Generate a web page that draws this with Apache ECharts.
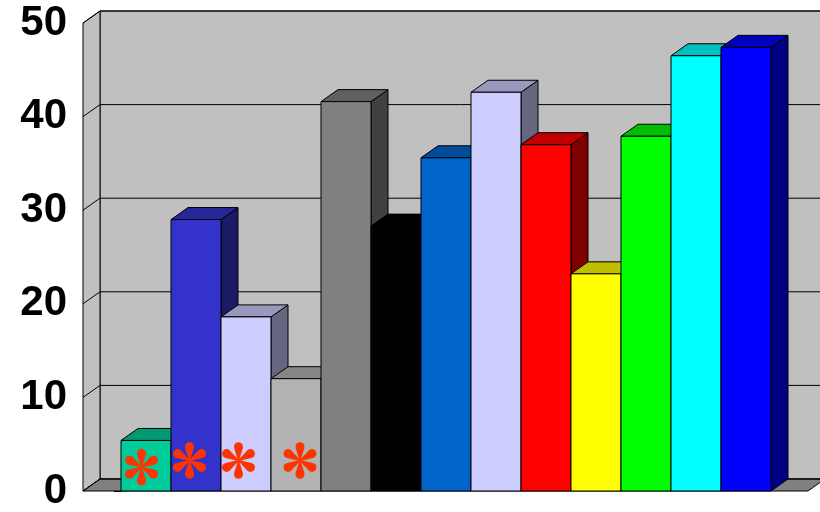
<!DOCTYPE html>
<html>
<head>
<meta charset="utf-8">
<script src="https://cdn.jsdelivr.net/npm/echarts@6/dist/echarts.min.js"></script>
<style>
  html, body { margin: 0; padding: 0; background: #ffffff; }
  #chart { width: 820px; height: 512px; }
</style>
</head>
<body>
<div id="chart"></div>
<script>
// Bar heights, left to right
const values = [5.4, 29.0, 18.6, 12.0, 41.6, 28.3, 35.6, 42.6, 37.0, 23.2, 37.9, 46.5, 47.4];
// Front-face colour of each bar
const barColors = ['#00CC99', '#3333CC', '#CCCCFF', '#B2B2B2', '#808080', '#000000', '#0066CC',
                   '#CCCCFF', '#FF0000', '#FFFF00', '#00FF00', '#00FFFF', '#0000FF'];
// Value-axis ticks
const yTicks = [0, 10, 20, 30, 40, 50];
// Asterisk markers near the base of the first bars (x in bar units, y in value units)
const starX = [0.41, 1.37, 2.35, 3.58];
const starY = [2.55, 3.26, 3.26, 3.26];

// 3D depth of the plot box in pixels
const DX = 17, DY = 12;
const X_MIN = -0.76, X_MAX = 13.74;

function shade(hex, f) {
  const n = parseInt(hex.slice(1), 16);
  const r = Math.round(((n >> 16) & 255) * f);
  const g = Math.round(((n >> 8) & 255) * f);
  const b = Math.round((n & 255) * f);
  return 'rgb(' + r + ',' + g + ',' + b + ')';
}

const chart = echarts.init(document.getElementById('chart'));

// Back wall, side wall, floor and grid lines
function renderWalls(params, api) {
  const yMax = yTicks[yTicks.length - 1];
  const fl = api.coord([X_MIN, 0]);
  const fr = api.coord([X_MAX, 0]);
  const tl = api.coord([X_MIN, yMax]);
  const stroke = { stroke: '#000', lineWidth: 1 };
  const ch = [];
  ch.push({ type: 'polygon', shape: { points: [
      [tl[0] + DX, tl[1] - DY], [fr[0] + DX + 40, tl[1] - DY],
      [fr[0] + DX + 40, fl[1] - DY], [fl[0] + DX, fl[1] - DY]] },
    style: Object.assign({ fill: '#C0C0C0' }, stroke) });
  ch.push({ type: 'polygon', shape: { points: [
      [fl[0], fl[1]], [tl[0], tl[1]], [tl[0] + DX, tl[1] - DY], [fl[0] + DX, fl[1] - DY]] },
    style: Object.assign({ fill: '#C0C0C0' }, stroke) });
  ch.push({ type: 'polygon', shape: { points: [
      [fl[0], fl[1]], [fr[0], fr[1]], [fr[0] + DX, fr[1] - DY], [fl[0] + DX, fl[1] - DY]] },
    style: Object.assign({ fill: '#808080' }, stroke) });
  yTicks.forEach(function (v) {
    const p = api.coord([X_MIN, v]);
    ch.push({ type: 'polyline', shape: { points: [
        [p[0], p[1]], [p[0] + DX, p[1] - DY], [fr[0] + DX + 40, p[1] - DY]] },
      style: { stroke: '#000', lineWidth: 1, fill: null } });
  });
  return { type: 'group', children: ch };
}

// 3D bar: front face, top face, right side face
function renderBar(params, api) {
  const i = api.value(0);
  const v = api.value(1);
  const p0 = api.coord([i, 0]);
  const p1 = api.coord([i + 1, v]);
  const x0 = p0[0], x1 = p1[0], y0 = p0[1], y1 = p1[1];
  const c = barColors[params.dataIndex];
  const base = params.dataIndex * 10;
  const st = { stroke: '#000', lineWidth: 1 };
  return { type: 'group', children: [
    { type: 'polygon', z2: base + 1, shape: { points: [
        [x1, y1], [x1 + DX, y1 - DY], [x1 + DX, y0 - DY], [x1, y0]] },
      style: Object.assign({ fill: shade(c, 0.5) }, st) },
    { type: 'polygon', z2: base + 2, shape: { points: [
        [x0, y1], [x1, y1], [x1 + DX, y1 - DY], [x0 + DX, y1 - DY]] },
      style: Object.assign({ fill: shade(c, 0.75) }, st) },
    { type: 'rect', z2: base + 3, shape: { x: x0, y: y1, width: x1 - x0, height: y0 - y1 },
      style: Object.assign({ fill: c }, st) }
  ] };
}

// Six-spoked teardrop asterisk
function renderStar(params, api) {
  const c = api.coord([api.value(0), api.value(1)]);
  const ch = [];
  const R = 13.8, rr = 4.5, w = 0.5;
  for (let k = 0; k < 6; k++) {
    const a = -Math.PI / 2 + k * Math.PI / 3;
    const ux = Math.cos(a), uy = Math.sin(a);
    const px = -uy, py = ux;
    const cx = c[0] + ux * R, cy = c[1] + uy * R;
    // tangent points of the blob seen from the hub
    const s = rr / R, t = Math.sqrt(1 - s * s);
    const bx = cx - ux * rr * s, by = cy - uy * rr * s;
    ch.push({ type: 'circle', shape: { cx: cx, cy: cy, r: rr }, style: { fill: '#FF3300' } });
    ch.push({ type: 'polygon', shape: { points: [
        [c[0] + px * w, c[1] + py * w], [bx + px * rr * t, by + py * rr * t],
        [bx - px * rr * t, by - py * rr * t], [c[0] - px * w, c[1] - py * w]] },
      style: { fill: '#FF3300' } });
  }
  return { type: 'group', children: ch };
}

chart.setOption({
  animation: false,
  grid: { left: 83, right: 12, top: 23, bottom: 18, containLabel: false },
  xAxis: { type: 'value', min: X_MIN, max: X_MAX, show: false },
  yAxis: {
    type: 'value', min: 0, max: 50, interval: 10,
    axisLine: { show: true, lineStyle: { color: '#000', width: 1 } },
    axisTick: { show: true, length: 7, lineStyle: { color: '#000', width: 1 } },
    axisLabel: { fontSize: 42, fontWeight: 'bold', color: '#000', margin: 16,
                 fontFamily: '"Liberation Sans", Arial, sans-serif' },
    splitLine: { show: false }
  },
  series: [
    { type: 'custom', z: 1, clip: false, renderItem: renderWalls, data: [[0]] },
    { type: 'custom', z: 2, clip: false, renderItem: renderBar,
      data: values.map(function (v, i) { return [i, v]; }) },
    { type: 'custom', z: 3, clip: false, renderItem: renderStar,
      data: starX.map(function (x, i) { return [x, starY[i]]; }) }
  ]
});
</script>
</body>
</html>
